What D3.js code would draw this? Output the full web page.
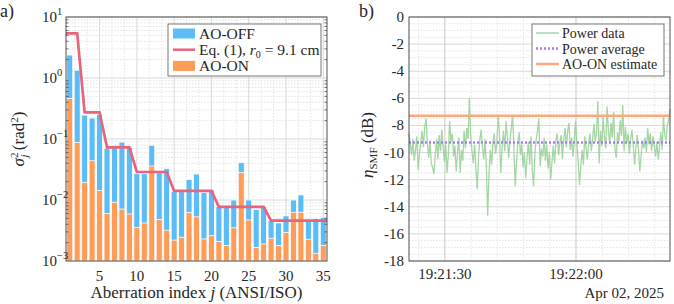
<!DOCTYPE html>
<html>
<head>
<meta charset="utf-8">
<script src="https://cdn.jsdelivr.net/npm/d3@7"></script>
<style>
  body { margin: 0; background: #fff; }
</style>
</head>
<body>
<script>
// ---- panel a) data ----
var jIndex = d3.range(1, 36);
var aoOff = [2.38, 1.34, 0.247, 0.221, 0.254, 0.071, 0.079, 0.089, 0.073, 0.027,
             0.027, 0.079, 0.028, 0.0326, 0.0137, 0.0137, 0.0218, 0.0267, 0.0132, 0.0146,
             0.0078, 0.0075, 0.010, 0.0414, 0.010, 0.0070, 0.0078, 0.0046, 0.0042, 0.0055,
             0.010, 0.0121, 0.0047, 0.0050, 0.0052];
var aoOn = [0.46, 0.088, 0.0195, 0.044, 0.0144, 0.0060, 0.0092, 0.0071, 0.0059, 0.00356,
            0.0042, 0.036, 0.0048, 0.0032, 0.0022, 0.00245, 0.0062, 0.0053, 0.0023, 0.0026,
            0.0021, 0.0018, 0.0035, 0.028, 0.0047, 0.00166, 0.0019, 0.00236, 0.0018, 0.00295,
            0.0063, 0.0063, 0.00227, 0.00134, 0.0018];
var eqModel = [5.4, 5.4, 0.274, 0.274, 0.274, 0.073, 0.073, 0.073, 0.073, 0.0288,
               0.0288, 0.0288, 0.0288, 0.0288, 0.0141, 0.0141, 0.0141, 0.0141, 0.0141, 0.0141,
               0.0077, 0.0077, 0.0077, 0.0077, 0.0077, 0.0077, 0.0077, 0.0046, 0.0046, 0.0046,
               0.0046, 0.0046, 0.0046, 0.0046, 0.0046];
var xTicksA = [5, 10, 15, 20, 25, 30, 35];
var yExpA = [-3, -2, -1, 0, 1];

// ---- panel b) data ----
var startTime = new Date(2025, 3, 2, 19, 21, 21, 800);
var sampleStep = 300; // ms
var power = [
  -8.6, -9.4, -10.2, -9.0, -10.6, -9.8, -8.8, -11.3, -10.0, -9.2,
  -8.4, -9.6, -8.1, -7.5, -9.3, -10.4, -9.1, -10.8, -11.1, -11.6,
  -10.2, -9.0, -10.5, -8.7, -9.9, -8.3, -9.6, -10.7, -9.4, -11.5,
  -10.1, -7.7, -9.2, -8.6, -10.3, -9.5, -11.4, -10.0, -8.9, -11.5,
  -9.8, -10.6, -8.4, -9.7, -8.2, -9.0, -6.0, -8.6, -9.9, -10.8,
  -9.4, -11.2, -12.7, -10.3, -9.1, -8.3, -9.6, -10.5, -9.0, -11.0,
  -14.7, -11.6, -9.8, -10.9, -9.2, -8.6, -10.1, -9.3, -7.2, -8.8,
  -11.5, -9.6, -8.4, -9.9, -7.7, -8.9, -10.4, -9.1, -8.2, -7.2,
  -9.7, -12.5, -10.6, -9.3, -8.5, -10.2, -9.4, -11.1, -10.0, -11.9,
  -10.4, -9.2, -10.9, -8.8, -11.3, -12.5, -10.1, -9.0, -8.4, -7.5,
  -11.0, -9.7, -10.3, -8.9, -10.6, -9.4, -11.2, -10.0, -12.0, -10.7,
  -9.5, -10.8, -9.1, -8.6, -10.2, -9.3, -8.7, -10.5, -9.0, -8.2,
  -9.6, -8.4, -7.8, -9.8, -8.9, -10.3, -9.1, -7.7, -9.4, -10.6,
  -12.4, -11.0, -9.8, -10.9, -8.8, -9.7, -10.5, -9.3, -8.6, -9.9,
  -9.0, -7.9, -9.2, -8.5, -6.2, -10.8, -8.4, -9.5, -7.4, -8.8,
  -9.7, -6.6, -8.3, -9.4, -7.8, -8.9, -7.0, -9.6, -10.4, -8.5,
  -9.2, -7.6, -8.8, -6.5, -9.9, -8.1, -9.3, -8.6, -10.1, -9.0,
  -8.3, -9.5, -10.9, -9.6, -8.7, -9.8, -11.4, -10.2, -9.1, -9.7,
  -8.9, -10.0, -8.2, -9.4, -8.6, -9.9, -8.8, -9.5, -10.3, -9.2,
  -10.5, -9.6, -8.5, -9.8, -7.3, -8.7, -9.1, -8.0, -7.6, -6.8
];
var powerAverage = -9.26;
var aoOnEstimate = -7.29;
var yTicksB = d3.range(-18, 1, 2);

var blue = "#5bbcf6", orange = "#ff9d58", red = "#e9637b";
var green = "#96cf96", purple = "#a47ff3", peach = "#ffa77c";
var gridMajor = "#d9d9d9", gridMinor = "#e4e4e4", axisCol = "#262626";

const svg = d3.select("body").append("svg")
  .attr("width", 674).attr("height", 304)
  .attr("font-family", "'Liberation Serif', 'Times New Roman', serif")
  .attr("fill", axisCol);

// ================= panel a =================
var ax = { l: 66, r: 327, t: 17, b: 261 };
var x = d3.scaleLinear().domain([0.5, 35.5]).range([ax.l, ax.r]);
var y = d3.scaleLog().domain([1e-3, 1e1]).range([ax.b, ax.t]);
const ga = svg.append("g");

// minor grid (x minor lines split each major step in three, as in the figure)
var minorY = [];
yExpA.slice(0, -1).forEach(e => { for (var k = 2; k < 10; k++) minorY.push(k * Math.pow(10, e)); });
var minorXA = [];
[0, 5, 10, 15, 20, 25, 30, 35].forEach(m => { minorXA.push(m + 5 / 3, m + 10 / 3); });
minorXA = minorXA.filter(v => v > 0.5 && v < 35.5);
ga.selectAll(".myA").data(minorY).enter().append("line")
  .attr("x1", ax.l).attr("x2", ax.r)
  .attr("y1", d => y(d)).attr("y2", d => y(d))
  .attr("stroke", gridMinor).attr("stroke-dasharray", "1.5,1.5");
ga.selectAll(".mxA").data(minorXA).enter().append("line")
  .attr("x1", d => x(d)).attr("x2", d => x(d))
  .attr("y1", ax.t).attr("y2", ax.b)
  .attr("stroke", gridMinor).attr("stroke-dasharray", "1.5,1.5");
// major grid
ga.selectAll(".gyA").data(yExpA).enter().append("line")
  .attr("x1", ax.l).attr("x2", ax.r)
  .attr("y1", d => y(Math.pow(10, d))).attr("y2", d => y(Math.pow(10, d)))
  .attr("stroke", gridMajor);
ga.selectAll(".gxA").data(xTicksA).enter().append("line")
  .attr("x1", d => x(d)).attr("x2", d => x(d))
  .attr("y1", ax.t).attr("y2", ax.b)
  .attr("stroke", gridMajor);

var bw = (x(2) - x(1)) * 0.8;
ga.selectAll(".off").data(jIndex).enter().append("rect")
  .attr("x", d => x(d) - bw / 2).attr("width", bw)
  .attr("y", (d, i) => y(aoOff[i])).attr("height", (d, i) => ax.b - y(aoOff[i]))
  .attr("fill", blue).attr("stroke", "#fff").attr("stroke-width", 0.8);
ga.selectAll(".on").data(jIndex).enter().append("rect")
  .attr("x", d => x(d) - bw / 2).attr("width", bw)
  .attr("y", (d, i) => y(aoOn[i])).attr("height", (d, i) => ax.b - y(aoOn[i]))
  .attr("fill", orange).attr("stroke", "#fff").attr("stroke-width", 0.8);

// model line, held flat to the axes edges
var eqPts = jIndex.map((j, i) => [j, eqModel[i]]);
eqPts.unshift([0.5, eqModel[0]]);
eqPts.push([35.5, eqModel[34]]);
ga.append("path").datum(eqPts)
  .attr("d", d3.line().x(d => x(d[0])).y(d => y(d[1])))
  .attr("fill", "none").attr("stroke", red).attr("stroke-width", 2.7);

// box + ticks
ga.append("rect").attr("x", ax.l).attr("y", ax.t).attr("width", ax.r - ax.l).attr("height", ax.b - ax.t)
  .attr("fill", "none").attr("stroke", axisCol).attr("stroke-width", 0.8);
ga.selectAll(".tmA").data(minorY).enter().append("line")
  .attr("x1", ax.r).attr("x2", ax.r - 2.5).attr("y1", d => y(d)).attr("y2", d => y(d))
  .attr("stroke", axisCol).attr("stroke-width", 0.6);
ga.selectAll(".tlA").data(minorY).enter().append("line")
  .attr("x1", ax.l).attr("x2", ax.l + 2.5).attr("y1", d => y(d)).attr("y2", d => y(d))
  .attr("stroke", axisCol).attr("stroke-width", 0.6);

ga.selectAll(".xlA").data(xTicksA).enter().append("text")
  .attr("x", d => x(d)).attr("y", 281).attr("text-anchor", "middle")
  .attr("font-size", 15).text(d => d);
ga.selectAll(".ylA").data(yExpA).enter().append("text")
  .attr("x", 57).attr("y", d => y(Math.pow(10, d)) + 5).attr("text-anchor", "end")
  .attr("font-size", 15).text("10");
ga.selectAll(".yeA").data(yExpA).enter().append("text")
  .attr("x", 57).attr("y", d => y(Math.pow(10, d)) - 2).attr("font-size", 10.5)
  .text(d => d < 0 ? "\u2212" + (-d) : d);

var xlab = ga.append("text").attr("x", (ax.l + ax.r) / 2).attr("y", 298)
  .attr("text-anchor", "middle").attr("font-size", 17);
xlab.append("tspan").text("Aberration index ");
xlab.append("tspan").attr("font-style", "italic").text("j");
xlab.append("tspan").text(" (ANSI/ISO)");

var ylab = ga.append("text").attr("transform", "translate(24," + ((ax.t + ax.b) / 2) + ") rotate(-90)")
  .attr("text-anchor", "middle").attr("font-size", 17);
ylab.append("tspan").attr("font-style", "italic").text("\u03c3");
ylab.append("tspan").attr("font-size", 11).attr("dy", -6).text("2");
ylab.append("tspan").attr("font-size", 11).attr("font-style", "italic").attr("dx", -5).attr("dy", 10).text("j");
ylab.append("tspan").attr("dy", -4).text(" (rad");
ylab.append("tspan").attr("font-size", 11).attr("dy", -6).text("2");
ylab.append("tspan").attr("dy", 6).text(")");

ga.append("text").attr("x", 0).attr("y", 17).attr("font-size", 18).text("a)");

// legend a
var lgA = ga.append("g");
lgA.append("rect").attr("x", 168).attr("y", 24).attr("width", 153).attr("height", 52)
  .attr("fill", "#fff").attr("stroke", "#555").attr("stroke-width", 0.8);
var legA = [{ t: "AO-OFF", c: blue, kind: "patch" }, { t: "Eq", c: red, kind: "line" }, { t: "AO-ON", c: orange, kind: "patch" }];
legA.forEach((d, i) => {
  var cy = 33.5 + i * 16.2;
  if (d.kind == "patch")
    lgA.append("rect").attr("x", 173).attr("y", cy - 5).attr("width", 22).attr("height", 10).attr("fill", d.c);
  else
    lgA.append("line").attr("x1", 173).attr("x2", 195).attr("y1", cy).attr("y2", cy).attr("stroke", d.c).attr("stroke-width", 2.5);
  var t = lgA.append("text").attr("x", 199).attr("y", cy + 5).attr("font-size", 15.5);
  if (d.t == "Eq") {
    t.append("tspan").text("Eq. (1), ");
    t.append("tspan").attr("font-style", "italic").text("r");
    t.append("tspan").attr("font-size", 10).attr("dy", 3).text("0");
    t.append("tspan").attr("dy", -3).text(" = 9.1 cm");
  } else t.text(d.t);
});

// ================= panel b =================
var bx = { l: 409, r: 670, t: 17, b: 261 };
var endTime = new Date(+startTime + (power.length - 1) * sampleStep);
var xt = d3.scaleTime().domain([startTime, endTime]).range([bx.l, bx.r]);
var yb = d3.scaleLinear().domain([-18, 0]).range([bx.b, bx.t]);
const gb = svg.append("g");

gb.selectAll(".myB").data(d3.range(-18, 0, 0.5).filter(v => v % 2 != 0)).enter().append("line")
  .attr("x1", bx.l).attr("x2", bx.r).attr("y1", d => yb(d)).attr("y2", d => yb(d))
  .attr("stroke", gridMinor).attr("stroke-dasharray", "1.5,1.5");
var minorT = d3.timeSecond.every(6).range(startTime, endTime).filter(d => d.getSeconds() % 30 != 0);
gb.selectAll(".mxB").data(minorT).enter().append("line")
  .attr("x1", d => xt(d)).attr("x2", d => xt(d)).attr("y1", bx.t).attr("y2", bx.b)
  .attr("stroke", gridMinor).attr("stroke-dasharray", "1.5,1.5");
gb.selectAll(".gyB").data(yTicksB).enter().append("line")
  .attr("x1", bx.l).attr("x2", bx.r).attr("y1", d => yb(d)).attr("y2", d => yb(d))
  .attr("stroke", gridMajor);
var majorT = d3.timeSecond.every(30).range(startTime, endTime);
gb.selectAll(".gxB").data(majorT).enter().append("line")
  .attr("x1", d => xt(d)).attr("x2", d => xt(d)).attr("y1", bx.t).attr("y2", bx.b)
  .attr("stroke", "#c8c8c8");

gb.append("path").datum(power)
  .attr("d", d3.line().x((d, i) => xt(new Date(+startTime + i * sampleStep))).y(d => yb(d)))
  .attr("fill", "none").attr("stroke", green).attr("stroke-opacity", 0.85).attr("stroke-width", 1.3);
gb.append("line").attr("x1", bx.l).attr("x2", bx.r).attr("y1", yb(aoOnEstimate)).attr("y2", yb(aoOnEstimate))
  .attr("stroke", peach).attr("stroke-width", 2.5);
gb.append("line").attr("x1", bx.l).attr("x2", bx.r).attr("y1", yb(powerAverage)).attr("y2", yb(powerAverage))
  .attr("stroke", purple).attr("stroke-width", 2.5).attr("stroke-dasharray", "2,2");

gb.append("rect").attr("x", bx.l).attr("y", bx.t).attr("width", bx.r - bx.l).attr("height", bx.b - bx.t)
  .attr("fill", "none").attr("stroke", axisCol).attr("stroke-width", 0.8);
gb.selectAll(".ylB").data(yTicksB).enter().append("text")
  .attr("x", 404).attr("y", d => yb(d) + 5).attr("text-anchor", "end")
  .attr("font-size", 15).text(d => d == 0 ? "0" : "-" + (-d));
gb.selectAll(".xlB").data(majorT).enter().append("text")
  .attr("x", d => xt(d)).attr("y", 279).attr("text-anchor", "middle")
  .attr("font-size", 15).text(d3.timeFormat("%H:%M:%S"));
gb.append("text").attr("x", bx.r - 6).attr("y", 298).attr("text-anchor", "end")
  .attr("font-size", 15).text(d3.timeFormat("%b %d, %Y")(startTime));

var ylb = gb.append("text").attr("transform", "translate(373," + ((bx.t + bx.b) / 2 + 6) + ") rotate(-90)")
  .attr("text-anchor", "middle").attr("font-size", 17);
ylb.append("tspan").attr("font-style", "italic").text("\u03b7");
ylb.append("tspan").attr("font-size", 11).attr("dy", 4).text("SMF");
ylb.append("tspan").attr("dy", -4).text(" (dB)");

gb.append("text").attr("x", 359).attr("y", 17).attr("font-size", 18).text("b)");

// legend b
var lgB = gb.append("g");
lgB.append("rect").attr("x", 532).attr("y", 24).attr("width", 132).attr("height", 52)
  .attr("fill", "#fff").attr("stroke", "#555").attr("stroke-width", 0.8);
var legB = [{ t: "Power data", c: green, w: 1.3, dash: null },
            { t: "Power average", c: purple, w: 2.5, dash: "2,2" },
            { t: "AO-ON estimate", c: peach, w: 2.5, dash: null }];
legB.forEach((d, i) => {
  var cy = 33 + i * 15.5;
  lgB.append("line").attr("x1", 536).attr("x2", 559).attr("y1", cy).attr("y2", cy)
    .attr("stroke", d.c).attr("stroke-width", d.w).attr("stroke-dasharray", d.dash);
  lgB.append("text").attr("x", 562).attr("y", cy + 5).attr("font-size", 14).text(d.t);
});
</script>
</body>
</html>
